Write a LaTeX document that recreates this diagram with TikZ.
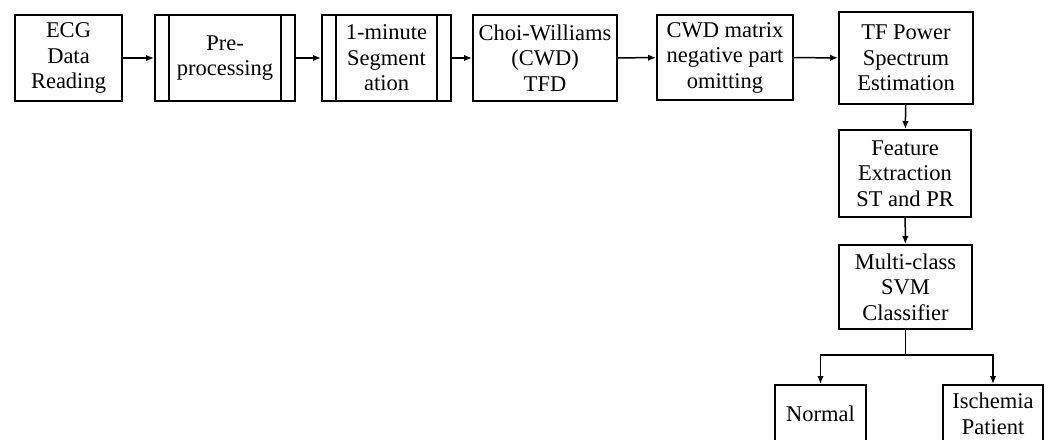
\documentclass[tikz,border=0pt]{standalone}
\usepackage{fontspec}
\setmainfont{Liberation Serif}
\usetikzlibrary{arrows.meta}

\begin{document}
\begin{tikzpicture}[x=1pt,y=-1pt,
 box/.style={draw,line width=2pt,align=center,inner sep=0pt,font=\fontsize{22.5}{25.5}\selectfont},
 process/.style={box,path picture={
  \draw[line width=1.8pt] ([xshift=14pt]path picture bounding box.north west) -- ([xshift=14pt]path picture bounding box.south west);
  \draw[line width=1.8pt] ([xshift=-14pt]path picture bounding box.north east) -- ([xshift=-14pt]path picture bounding box.south east);}},
 arr/.style={line width=1.5pt,-{Latex[length=8pt,width=6.5pt]}}]
\useasboundingbox (0,0) rectangle (1051,439);
\clip (0,0) rectangle (1051,439);

\node[box,minimum width=107pt,minimum height=86pt] (ecg) at (68.5,58) {ECG\\Data\\Reading};
\node[process,minimum width=140pt,minimum height=86pt] (pre) at (225,58) {Pre-\\processing};
\node[process,minimum width=129pt,minimum height=86pt] (seg) at (386.5,58) {1-minute\\Segment\\ation};
\node[box,minimum width=144pt,minimum height=86pt] (cwd) at (545,58) {Choi-Williams\\(CWD)\\TFD};
\node[box,minimum width=136pt,minimum height=85pt] (neg) at (725,57.5) {CWD matrix\\negative part\\omitting};
\node[box,minimum width=134pt,minimum height=92pt] (tf) at (906,58) {TF Power\\Spectrum\\Estimation};
\node[box,minimum width=132pt,minimum height=87pt] (feat) at (905,173.5) {Feature\\Extraction\\ST and PR};
\node[box,minimum width=133pt,minimum height=84pt] (svm) at (905.5,287) {Multi-class\\SVM\\Classifier};
\node[box,minimum width=91pt,minimum height=58pt] (normal) at (820.5,414) {Normal};
\node[box,minimum width=100pt,minimum height=58pt] (isch) at (993,414) {Ischemia\\Patient};

\draw[arr] (ecg) -- (pre);
\draw[arr] (pre) -- (seg);
\draw[arr] (seg) -- (cwd);
\draw[arr] (cwd) -- (neg);
\draw[arr] (neg) -- (tf);
\draw[arr] (tf) -- (feat);
\draw[arr] (feat) -- (svm);
\draw[arr] (svm.south) -- ++(0,25) -| (normal.north);
\draw[arr] (svm.south) -- ++(0,25) -| (isch.north);
\end{tikzpicture}
\end{document}
